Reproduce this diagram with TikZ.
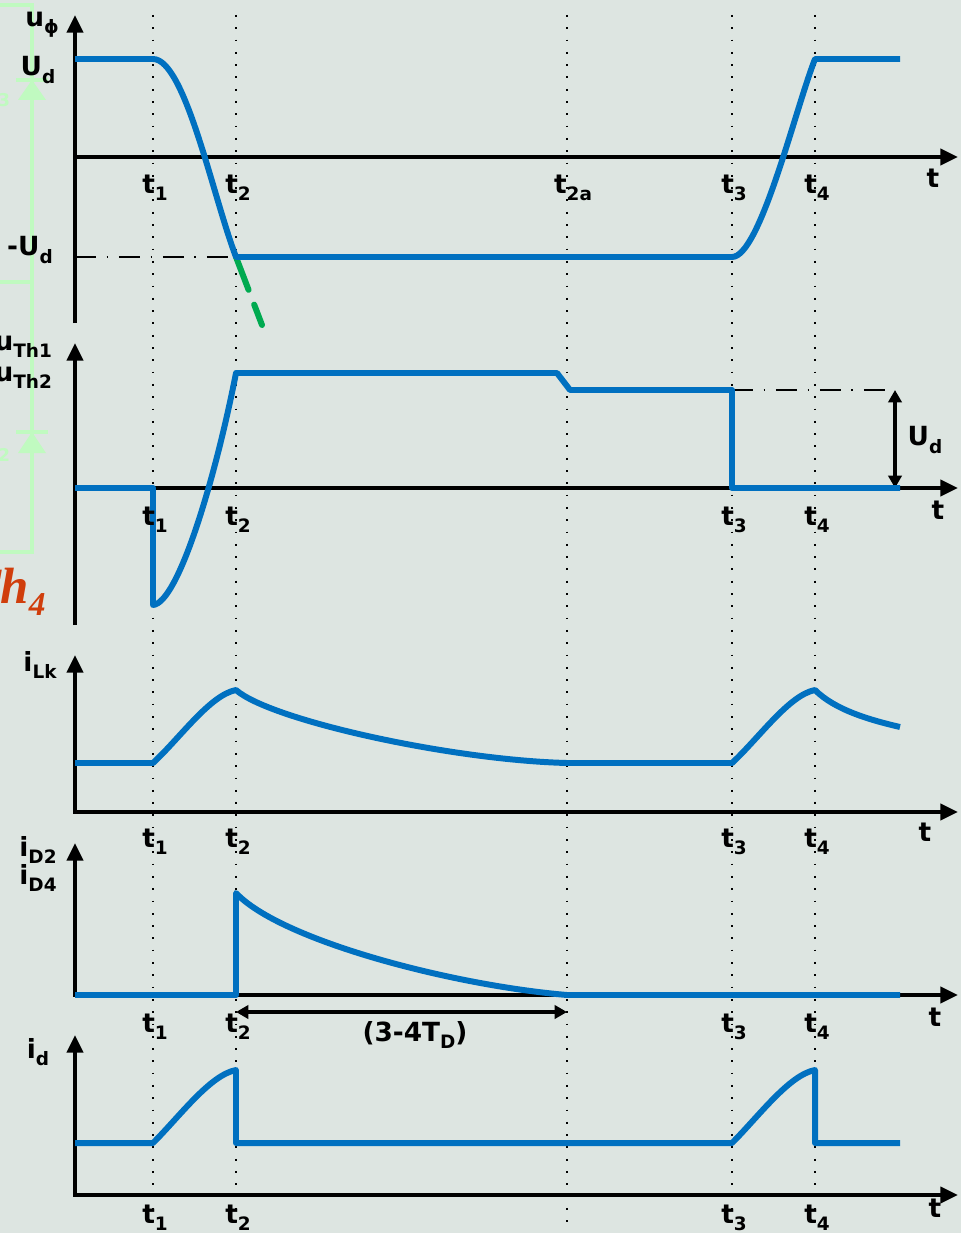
\documentclass[tikz,border=0pt]{standalone}
\usepackage{fontspec}
\setmainfont{DejaVu Sans}
\newfontfamily\thfont{Liberation Serif}
\usetikzlibrary{arrows.meta,positioning}
\definecolor{wblue}{RGB}{0,112,192}
\definecolor{bgcol}{RGB}{221,229,225}
\definecolor{ghost}{RGB}{192,250,192}
\definecolor{thred}{RGB}{208,62,12}
\definecolor{tailgreen}{RGB}{0,170,80}
\newcommand{\sbs}[2]{#1\raisebox{-0.5ex}{\fontsize{10.5}{11}\selectfont #2}}

\tikzset{
  axis/.style={line width=2.3pt, -{Triangle[length=10pt,width=9pt]}},
  span/.style={line width=2pt, {Triangle[length=7pt,width=7.5pt]}-{Triangle[length=7pt,width=7.5pt]}},
  wave/.style={line width=3.4pt, wblue, line join=round},
  guide/.style={line width=1pt, dash pattern=on 1pt off 6pt},
  dashdot/.style={line width=0.9pt, dash pattern=on 12pt off 6pt on 1pt off 6pt},
  lbl/.style={font=\bfseries\fontsize{15}{17}\selectfont, inner sep=1pt},
}

\begin{document}
\begin{tikzpicture}[x=0.02cm,y=-0.02cm]
  \fill[bgcol] (0,0) rectangle (961,1233);
  \useasboundingbox (0,0) rectangle (961,1233);

  % slide fragment at left edge
  \draw[ghost, line width=2pt] (0,5) -- (32,5) -- (32,552) -- (0,552);
  \draw[ghost, line width=2pt] (0,282) -- (32,282);
  \fill[ghost] (32,80) -- (46,100) -- (18,100) -- cycle;
  \draw[ghost, line width=2pt] (16,80) -- (48,80);
  \fill[ghost] (32,432) -- (46,453) -- (18,453) -- cycle;
  \draw[ghost, line width=2pt] (16,432) -- (48,432);
  \node[ghost, inner sep=0pt, font=\bfseries\fontsize{10}{10}\selectfont] (g3) at (4,100) {3};
  \node[ghost, inner sep=0pt, font=\bfseries\fontsize{10}{10}\selectfont] (g2) at (4,455) {2};
  \node[thred, anchor=base east, inner sep=0pt, font=\thfont\bfseries\itshape\fontsize{29}{30}\selectfont] (th) at (46,603) {Th\raisebox{-7pt}{\fontsize{19}{19}\selectfont 4}};

  % time marks
  \foreach \x in {153,236,567,732,815}
    \draw[guide] (\x,15) -- (\x,1222);

  % axes
  \draw[axis] (75,323) -- (75,15);
  \draw[axis] (75,157) -- (958,157);
  \draw[axis] (75,625) -- (75,343);
  \draw[axis] (75,488) -- (958,488);
  \draw[axis, {Triangle[length=10pt,width=9pt]}-{Triangle[length=10pt,width=9pt]}] (75,655) -- (75,812) -- (958,812);
  \draw[axis, {Triangle[length=10pt,width=9pt]}-{Triangle[length=10pt,width=9pt]}] (75,843) -- (75,995) -- (958,995);
  \draw[axis, {Triangle[length=10pt,width=9pt]}-{Triangle[length=10pt,width=9pt]}] (75,1035) -- (75,1195) -- (958,1195);

  % u_phi
  \draw[dashdot] (75,257) -- (236,257);
  \draw[tailgreen, line width=3.4pt, line cap=round, dash pattern=on 20pt off 9pt]
    (236,257) -- (262,325);
  \draw[wave] (75,59) -- (153,59) .. controls (185,59) and (213,197) .. (236,257)
    -- (732,257) .. controls (760,257) and (795,110) .. (815,59) -- (900,59);

  % u_Th1, u_Th2
  \draw[dashdot] (732,390) -- (895,390);
  \draw[span] (895,390) -- (895,488);
  \draw[wave] (75,488) -- (153,488) -- (153,605)
    .. controls (178,603) and (215,480) .. (236,373) -- (557,373) -- (570,390)
    -- (732,390) -- (732,488) -- (900,488);

  % i_Lk
  \draw[wave] (75,763) -- (153,763) .. controls (180,738) and (210,695) .. (236,690)
    .. controls (270,720) and (450,760) .. (567,763) -- (732,763)
    .. controls (759,738) and (789,695) .. (815,690)
    .. controls (835,710) and (870,720) .. (900,727);

  % i_D2, i_D4
  \draw[wave] (75,995) -- (236,995) -- (236,893)
    .. controls (280,940) and (450,985) .. (567,995) -- (900,995);
  \draw[span] (236,1012) -- (567,1012);

  % i_d
  \draw[wave] (75,1143) -- (153,1143) .. controls (180,1116) and (210,1075) .. (236,1070)
    -- (236,1143) -- (732,1143) .. controls (759,1116) and (789,1075) .. (815,1070)
    -- (815,1143) -- (900,1143);

  % axis names
  \node[lbl] (uph) at (42,25) {\sbs{u}{ϕ}};
  \node[lbl] (ud) at (38,70) {\sbs{U}{d}};
  \node[lbl] (mud) at (30,250) {\sbs{-U}{d}};
  \node[lbl, anchor=east] (uth1) at (54,347) {\sbs{u}{Th1}};
  \node[lbl, anchor=east] (uth2) at (54,378) {\sbs{u}{Th2}};
  \node[lbl] (ilk) at (40,665) {\sbs{i}{Lk}};
  \node[lbl] (id2) at (38,850) {\sbs{i}{D2}};
  \node[lbl] (id4) at (38,878) {\sbs{i}{D4}};
  \node[lbl] (idd) at (38,1052) {\sbs{i}{d}};
  \node[lbl] (udarr) at (925,440) {\sbs{U}{d}};
  \node[lbl] (tdur) at (415,1035) {(3-4\sbs{T}{D})};

  % time labels
  \node[lbl] (ta2) at (573,188) {\sbs{t}{2a}};
  \foreach \y/\tt in {188/933, 520/938, 842/925, 1027/935, 1218/935} {
    \foreach \x/\k in {153/1, 236/2, 732/3, 815/4}
      \node[lbl] at (\x+2,\y) {\sbs{t}{\k}};
    \node[lbl] at (\tt,\y-10) {t};
  }
\end{tikzpicture}
\end{document}
